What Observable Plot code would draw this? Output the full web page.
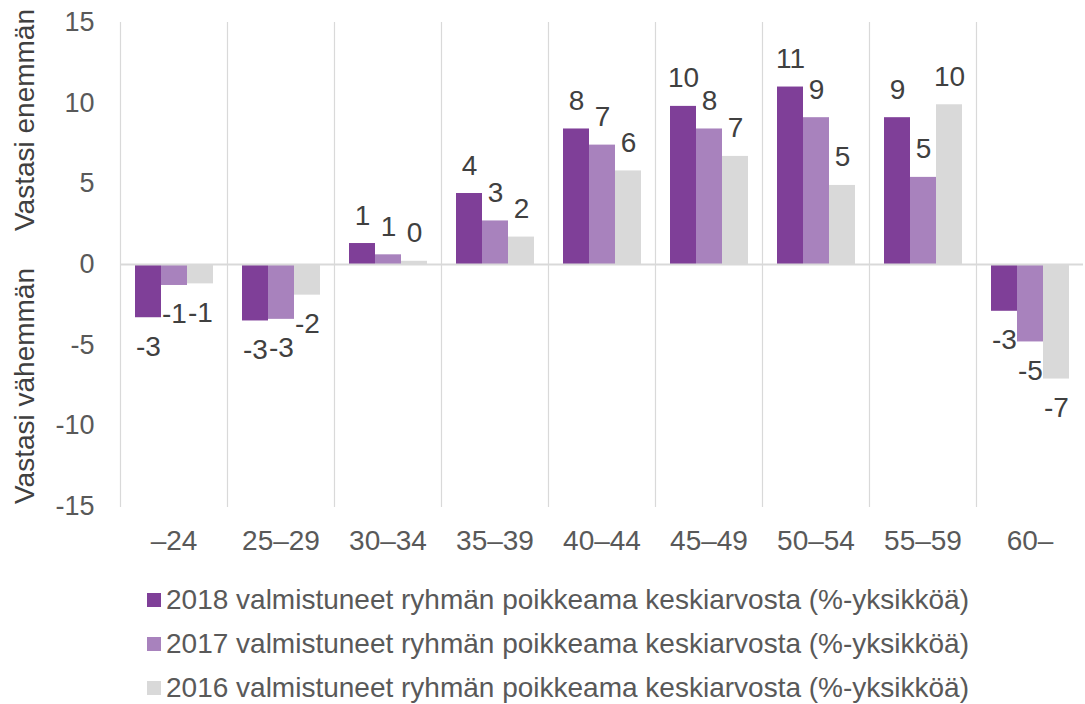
<!DOCTYPE html>
<html>
<head>
<meta charset="utf-8">
<script src="https://cdn.jsdelivr.net/npm/d3@7"></script>
<script src="https://cdn.jsdelivr.net/npm/@observablehq/plot@0.6"></script>
<style>
  body { margin: 0; background: #fff; font-family: "Liberation Sans", Arial, sans-serif; }
  #wrap { position: relative; width: 1085px; height: 560px; }
  .ytitle { position: absolute; left: 25px; font-size: 28px; color: #404040; white-space: nowrap; transform: translate(-50%, -50%) rotate(-90deg); line-height: 1; }
  #legend { margin-left: 147px; margin-top: 18px; }
  .item { display: flex; align-items: center; height: 44px; font-size: 28px; color: #595959; white-space: nowrap; }
  .sw { width: 14px; height: 14px; margin-right: 5px; flex: none; }
</style>
</head>
<body>
<div id="wrap"><div id="chart"></div></div>
<div id="legend"></div>
<script>
const ageGroups = ["–24", "25–29", "30–34", "35–39", "40–44", "45–49", "50–54", "55–59", "60–"];
const seriesKeys = ["2018", "2017", "2016"];
const seriesNames = [
  "2018 valmistuneet ryhmän poikkeama keskiarvosta (%-yksikköä)",
  "2017 valmistuneet ryhmän poikkeama keskiarvosta (%-yksikköä)",
  "2016 valmistuneet ryhmän poikkeama keskiarvosta (%-yksikköä)"
];
const values2018 = [-3.3, -3.5, 1.3, 4.4, 8.4, 9.8, 11.0, 9.1, -2.9];
const values2017 = [-1.3, -3.4, 0.6, 2.7, 7.4, 8.4, 9.1, 5.4, -4.8];
const values2016 = [-1.2, -1.9, 0.2, 1.7, 5.8, 6.7, 4.9, 9.9, -7.1];
const colors = ["#7f3f98", "#a882bd", "#d9d9d9"];
const yTicks = [-15, -10, -5, 0, 5, 10, 15];
const axisTitles = ["Vastasi enemmän", "Vastasi vähemmän"];

const allValues = [values2018, values2017, values2016];
const data = [];
seriesKeys.forEach((s, i) => ageGroups.forEach((a, j) => data.push({age: a, series: s, value: allValues[i][j]})));

const chart = Plot.plot({
  width: 1085,
  height: 560,
  marginLeft: 117,
  marginRight: 0,
  marginTop: 22,
  marginBottom: 54,
  style: {fontFamily: "'Liberation Sans', Arial, sans-serif", background: "#fff", overflow: "visible"},
  fx: {domain: ageGroups, padding: 0},
  x: {domain: seriesKeys, paddingInner: 0, paddingOuter: 0.5, axis: null},
  y: {domain: [-15, 15]},
  color: {domain: seriesKeys, range: colors},
  marks: [
    Plot.frame({anchor: "left", stroke: "#d9d9d9", strokeWidth: 1.2, strokeOpacity: 1}),
    Plot.barY(data, {fx: "age", x: "series", y: "value", fill: "series"}),
    Plot.ruleY([0], {stroke: "#d9d9d9", strokeWidth: 2}),
    Plot.text(data.filter(d => d.value >= 0), {fx: "age", x: "series", y: "value", text: d => String(Math.round(d.value)), lineAnchor: "bottom", dy: -19, fontSize: 28, fill: "#404040"}),
    Plot.text(data.filter(d => d.value < 0), {fx: "age", x: "series", y: "value", text: d => String(Math.round(d.value)), lineAnchor: "top", dy: 18, fontSize: 28, fill: "#404040"}),
    Plot.axisY({ticks: yTicks, tickFormat: d => String(d), tickSize: 0, tickPadding: 26, fontSize: 27, color: "#595959", label: null}),
    Plot.axisFx({anchor: "bottom", tickSize: 0, tickPadding: 24, fontSize: 28, color: "#595959", label: null})
  ]
});
document.getElementById("chart").appendChild(chart);

// rotated axis titles, centred on the upper and lower halves of the y scale
const yScale = chart.scale("y");
const wrap = document.getElementById("wrap");
[[axisTitles[0], 120], [axisTitles[1], 386]].forEach(([label, top]) => {
  const el = document.createElement("div");
  el.className = "ytitle";
  el.style.top = top + "px";
  el.textContent = label;
  wrap.appendChild(el);
});

const legend = document.getElementById("legend");
seriesNames.forEach((name, i) => {
  const item = document.createElement("div");
  item.className = "item";
  const sw = document.createElement("span");
  sw.className = "sw";
  sw.style.background = colors[i];
  const t = document.createElement("span");
  t.textContent = name;
  item.appendChild(sw);
  item.appendChild(t);
  legend.appendChild(item);
});
</script>
</body>
</html>
